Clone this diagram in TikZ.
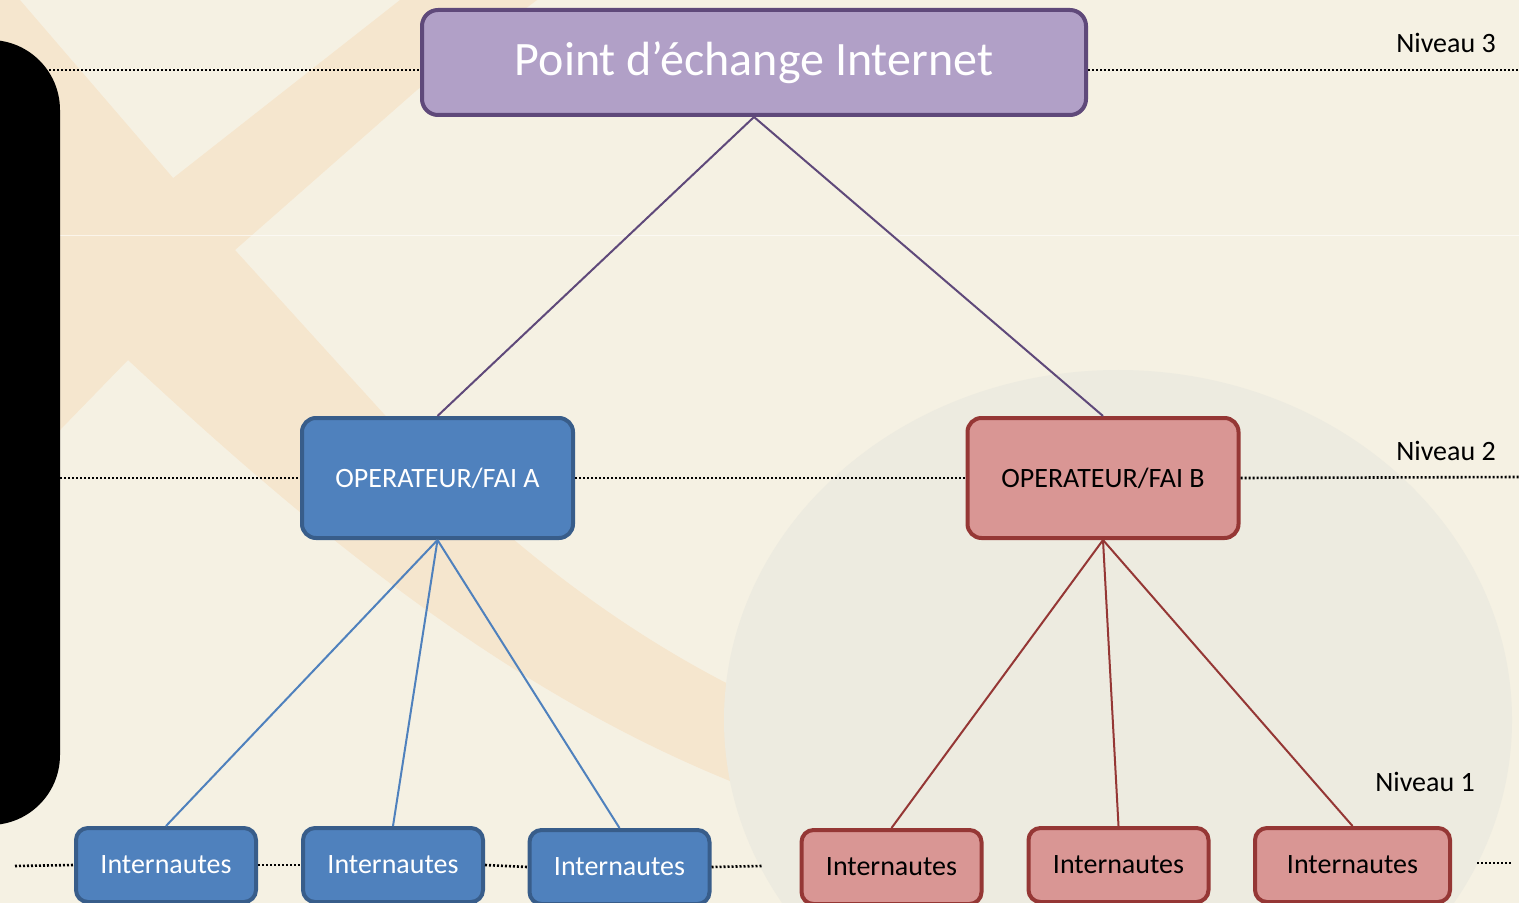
\documentclass[tikz,border=0pt]{standalone}
\usepackage{fontspec}
\setmainfont{Carlito}
\definecolor{fond}{HTML}{F5F1E3}
\definecolor{bande}{HTML}{F5E6CE}
\definecolor{cercle}{HTML}{EDEBE0}
\definecolor{pxfill}{HTML}{B1A0C7}
\definecolor{pxtrait}{HTML}{5F497A}
\definecolor{afill}{HTML}{4F81BD}
\definecolor{atrait}{HTML}{385D8A}
\definecolor{bfill}{HTML}{D99694}
\definecolor{btrait}{HTML}{953735}
\begin{document}
\begin{tikzpicture}[x=0.5pt,y=-0.5pt,
  boite/.style={rounded corners=7pt, line width=2pt, inner sep=0pt, font=\fontsize{14}{17}\selectfont},
  boiteA/.style={boite, draw=atrait, fill=afill, text=white},
  boiteB/.style={boite, draw=btrait, fill=bfill, text=black},
  internaute/.style={minimum width=90pt, minimum height=37pt, rounded corners=6pt},
  niveau/.style={line width=1.3pt, dash pattern=on 1pt off 1pt},
  etiquette/.style={font=\fontsize{14}{17}\selectfont}]
\useasboundingbox (0,0) rectangle (1519,903);

% fond
\fill[fond] (0,0) rectangle (1519,903);
\fill[bande] (0,0) -- (20,0) -- (235,250) -- (383,413) .. controls (480,520) and (600,620) .. (740,690) -- (740,785) .. controls (500,690) and (300,520) .. (128,360) -- (0,220) -- cycle;
\fill[bande] (400,0) -- (537,0) -- (417,90) -- (235,250) -- (128,360) -- (61,429) -- (0,490) -- (0,300) -- (172,179) -- cycle;
\draw[white, opacity=0.6, line width=0.5pt] (60,236) -- (1519,236);
\fill[cercle] (1118,720) ellipse [x radius=394, y radius=350];
\fill[black, rounded corners=35pt] (-80,40) rectangle (60,825);

% noeuds
\node[boite, draw=pxtrait, fill=pxfill, text=white, rounded corners=8pt, minimum width=332pt, minimum height=52.5pt, font=\fontsize{24}{29}\selectfont] (pei) at (754,62.5) {\raisebox{-1.5pt}{Point d’échange Internet}};

\node[boiteA, minimum width=135.5pt, minimum height=60pt] (faiA) at (437.5,478) {OPERATEUR/FAI A};
\node[boiteB, minimum width=135.5pt, minimum height=60pt] (faiB) at (1103,478) {OPERATEUR/FAI B};

\node[boiteA, internaute] (a1) at (166,865) {Internautes};
\node[boiteA, internaute] (a2) at (393,865) {Internautes};
\node[boiteA, internaute] (a3) at (619.5,867) {Internautes};
\node[boiteB, internaute] (b1) at (891.5,867) {Internautes};
\node[boiteB, internaute] (b2) at (1118.5,865) {Internautes};
\node[boiteB, internaute, minimum width=97.5pt] (b3) at (1352.5,865) {Internautes};

\node[etiquette] (niv3) at (1446,43) {Niveau 3};
\node[etiquette] (niv2) at (1446,451) {Niveau 2};
\node[etiquette] (niv1) at (1425,782) {Niveau 1};

% liens
\draw[pxtrait, line width=1pt] (pei.south) -- (faiA.north);
\draw[pxtrait, line width=1pt] (pei.south) -- (faiB.north);
\foreach \n in {a1,a2,a3}
  \draw[afill, line width=1pt] (faiA.south) -- (\n.north);
\foreach \n in {b1,b2,b3}
  \draw[btrait, line width=1pt] (faiB.south) -- (\n.north);

% niveaux
\coordinate (n3g) at (45,70);
\coordinate (n3d) at (1519,70);
\coordinate (n2g) at (60,478);
\coordinate (n2d) at (1519,477);
\coordinate (n1g) at (15,866);
\coordinate (n1m) at (762,866);
\coordinate (n1d) at (1477,863);
\coordinate (n1f) at (1511,863);
\draw[niveau] (n3g) -- (n3g -| pei.west);
\draw[niveau] (n3d -| pei.east) -- (n3d);
\draw[niveau] (n2g) -- (faiA.west);
\draw[niveau] (faiA.east) -- (faiB.west);
\draw[niveau] (faiB.east) -- (n2d);
\draw[niveau] (n1g) -- (a1.west);
\draw[niveau] (a1.east) -- (a2.west);
\draw[niveau] (a2.east) -- (a3.west);
\draw[niveau] (a3.east) -- (n1m);
\draw[niveau] (n1d) -- (n1f);
\end{tikzpicture}
\end{document}
